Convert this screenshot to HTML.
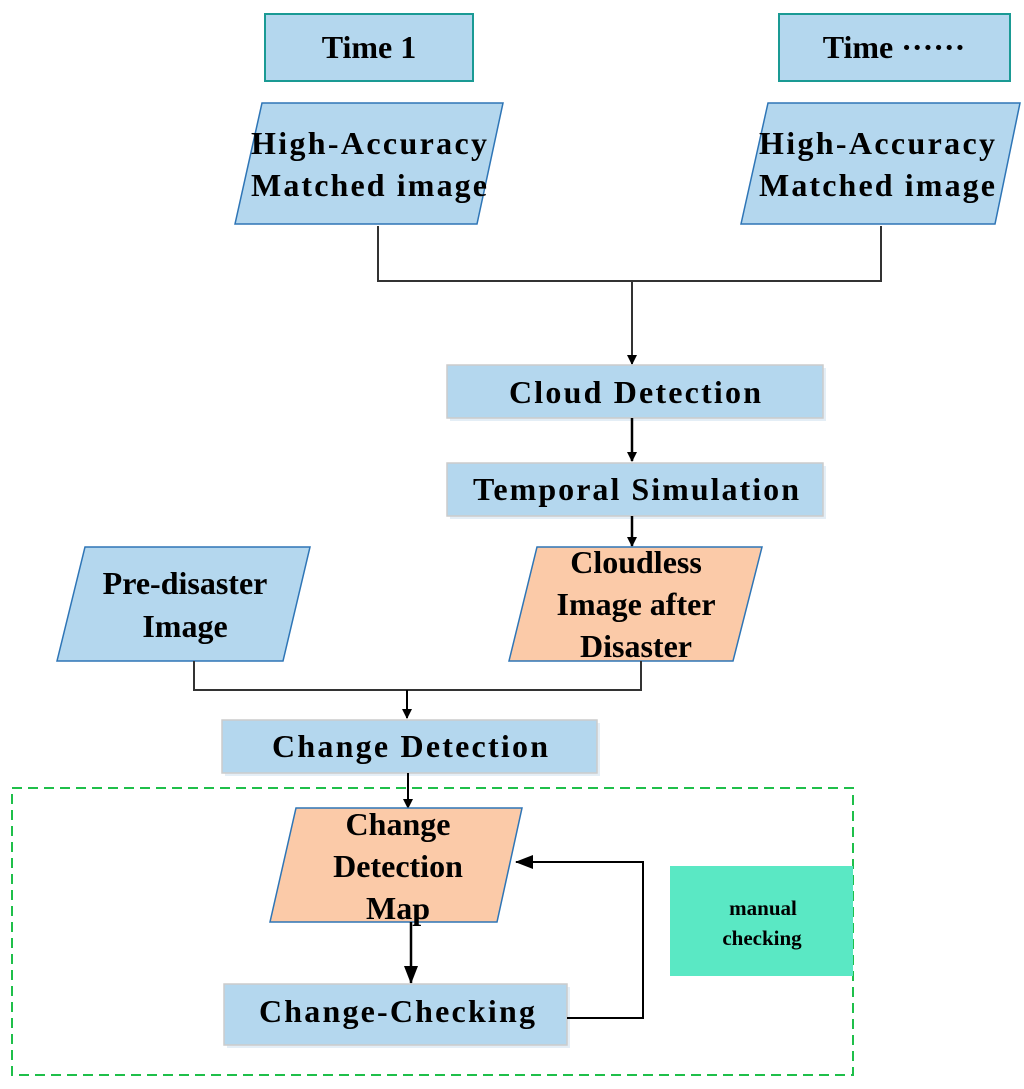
<!DOCTYPE html>
<html><head><meta charset="utf-8"><style>html,body{margin:0;padding:0;background:#fff}svg{display:block}</style></head>
<body>
<svg width="1024" height="1089" viewBox="0 0 1024 1089" xmlns="http://www.w3.org/2000/svg" font-family="Liberation Serif, serif" font-weight="bold">
<defs>
<marker id="a" markerWidth="10" markerHeight="10" refX="9" refY="5" orient="auto" markerUnits="userSpaceOnUse" viewBox="0 0 10 10"><path d="M0,0 L10,5 L0,10 z" fill="#000"/></marker>
<marker id="b" markerWidth="18" markerHeight="18" refX="17" refY="9" orient="auto" markerUnits="userSpaceOnUse" viewBox="0 0 18 18"><path d="M0,2 L18,9 L0,16 z" fill="#000"/></marker>
</defs>
<!-- dashed container -->
<rect x="12" y="788" width="841" height="287" fill="none" stroke="#1fbf4a" stroke-width="2" stroke-dasharray="10,6"/>
<!-- top boxes -->
<rect x="265" y="14" width="208" height="67" fill="#b4d7ee" stroke="#1a9a94" stroke-width="2"/>
<text x="369" y="58" font-size="32" text-anchor="middle">Time 1</text>
<rect x="779" y="14" width="231" height="67" fill="#b4d7ee" stroke="#1a9a94" stroke-width="2"/>
<text x="894" y="58" font-size="32" text-anchor="middle">Time ······</text>
<!-- parallelograms top -->
<polygon points="262,103 503,103 477,224 235,224" fill="#b4d7ee" stroke="#2e75b6" stroke-width="1.5"/>
<text x="369" y="154" font-size="32" text-anchor="middle" textLength="236">High-Accuracy</text>
<text x="369" y="196" font-size="32" text-anchor="middle" textLength="236">Matched image</text>
<polygon points="768,103 1020,103 995,224 741,224" fill="#b4d7ee" stroke="#2e75b6" stroke-width="1.5"/>
<text x="877" y="154" font-size="32" text-anchor="middle" textLength="236">High-Accuracy</text>
<text x="877" y="196" font-size="32" text-anchor="middle" textLength="236">Matched image</text>
<!-- connectors top -->
<polyline points="378,226 378,281 881,281 881,226" fill="none" stroke="#333" stroke-width="2"/>
<line x1="632" y1="281" x2="632" y2="364" stroke="#333" stroke-width="2" marker-end="url(#a)"/>
<!-- Cloud detection -->
<rect x="450" y="368" width="376" height="53" fill="#e4eef6"/>
<rect x="447" y="365" width="376" height="53" fill="#b4d7ee" stroke="#ccc" stroke-width="1.5"/>
<text x="635" y="403" font-size="32" text-anchor="middle" textLength="252">Cloud Detection</text>
<line x1="632" y1="418" x2="632" y2="461" stroke="#000" stroke-width="2.5" marker-end="url(#a)"/>
<rect x="450" y="466" width="376" height="53" fill="#e4eef6"/>
<rect x="447" y="463" width="376" height="53" fill="#b4d7ee" stroke="#ccc" stroke-width="1.5"/>
<text x="636" y="500" font-size="32" text-anchor="middle" textLength="326">Temporal Simulation</text>
<line x1="632" y1="516" x2="632" y2="546" stroke="#000" stroke-width="2.5" marker-end="url(#a)"/>
<!-- Cloudless -->
<polygon points="537,547 762,547 733,661 509,661" fill="#fbcaa8" stroke="#2e75b6" stroke-width="1.5"/>
<text x="636" y="573" font-size="32" text-anchor="middle">Cloudless</text>
<text x="636" y="615" font-size="32" text-anchor="middle">Image after</text>
<text x="636" y="657" font-size="32" text-anchor="middle">Disaster</text>
<!-- Pre-disaster -->
<polygon points="85,547 310,547 283,661 57,661" fill="#b4d7ee" stroke="#2e75b6" stroke-width="1.5"/>
<text x="185" y="594" font-size="32" text-anchor="middle">Pre-disaster</text>
<text x="185" y="637" font-size="32" text-anchor="middle">Image</text>
<polyline points="194,661 194,690 641,690 641,661" fill="none" stroke="#333" stroke-width="2"/>
<line x1="407" y1="690" x2="407" y2="718" stroke="#000" stroke-width="2" marker-end="url(#a)"/>
<!-- Change Detection -->
<rect x="225" y="723" width="375" height="53" fill="#e4eef6"/>
<rect x="222" y="720" width="375" height="53" fill="#b4d7ee" stroke="#ccc" stroke-width="1.5"/>
<text x="410" y="757" font-size="32" text-anchor="middle" textLength="276">Change Detection</text>
<line x1="408" y1="773" x2="408" y2="808" stroke="#000" stroke-width="2" marker-end="url(#a)"/>
<!-- Change Detection Map -->
<polygon points="296,808 522,808 497,922 270,922" fill="#fbcaa8" stroke="#2e75b6" stroke-width="1.5"/>
<text x="398" y="835" font-size="32" text-anchor="middle">Change</text>
<text x="398" y="877" font-size="32" text-anchor="middle">Detection</text>
<text x="398" y="919" font-size="32" text-anchor="middle">Map</text>
<line x1="411" y1="922" x2="411" y2="983" stroke="#000" stroke-width="2.5" marker-end="url(#b)"/>
<!-- Change-Checking -->
<rect x="227" y="987" width="343" height="61" fill="#e4eef6"/>
<rect x="224" y="984" width="343" height="61" fill="#b4d7ee" stroke="#ccc" stroke-width="1.5"/>
<text x="397" y="1022" font-size="32" text-anchor="middle" textLength="276">Change-Checking</text>
<polyline points="567,1018 643,1018 643,862 516,862" fill="none" stroke="#000" stroke-width="2" marker-end="url(#b)"/>
<!-- manual checking -->
<rect x="670" y="866" width="183" height="110" fill="#5ae8c4"/>
<text x="763" y="915" font-size="21" text-anchor="middle">manual</text>
<text x="762" y="945" font-size="21" text-anchor="middle">checking</text>
</svg>
</body></html>
